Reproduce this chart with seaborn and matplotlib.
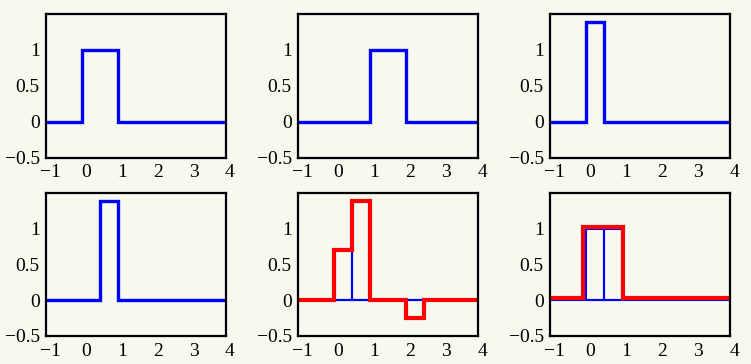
import matplotlib
matplotlib.use("Agg")
import matplotlib.pyplot as plt
import matplotlib.transforms as mtransforms
import seaborn as sns
import pandas as pd

# ---- data ----
p1_edges = [-1, 0, 1, 4]
p1_vals = [0, 1, 0, 0]
p2_edges = [-1, 1, 2, 4]
p2_vals = [0, 1, 0, 0]
p3_edges = [-1, 0, 0.5, 4]
p3_vals = [0, 1.39, 0, 0]
p4_edges = [-1, 0.5, 1, 4]
p4_vals = [0, 1.39, 0, 0]
p5_red_edges = [-1, 0, 0.5, 1, 2, 2.5, 4]
p5_red_vals = [0, 0.7, 1.39, 0, -0.25, 0, 0]
p5_bar_left = [0, 0.5, 2]
p5_bar_height = [0.7, 1.39, -0.25]
p6_red_edges = [-1, -0.07, 1.03, 4]
p6_red_vals = [0.03, 1.03, 0.03, 0.03]
p6_bar_left = [0, 0.5]
p6_bar_height = [1.0, 1.0]
bar_width = 0.5
xticks = [-1, 0, 1, 2, 3, 4]
yticks = [-0.5, 0, 0.5, 1]
ytick_labels = ["\u22120.5", "0", "0.5", "1"]
xtick_labels = ["\u22121", "0", "1", "2", "3", "4"]

BG = "#f7f9ef"
sns.set_theme(style="white")
plt.rcParams["font.family"] = ["Liberation Serif", "DejaVu Serif"]

W, H = 751, 364
fig = plt.figure(figsize=(W / 100, H / 100), dpi=100, facecolor=BG)

cols = [46, 298, 550]
rows = [(14, 157.5), (193, 336)]
pw = 180


def make_ax(ci, ri):
    x0 = cols[ci]
    t, b = rows[ri]
    ax = fig.add_axes([x0 / W, 1 - b / H, pw / W, (b - t) / H])
    ax.set_facecolor(BG)
    ax.set_xlim(-1, 4)
    ax.set_ylim(-0.5, 1.5)
    ax.set_xticks(xticks)
    ax.set_xticklabels(xtick_labels)
    ax.set_yticks(yticks)
    ax.set_yticklabels(ytick_labels)
    ax.tick_params(length=0, labelsize=14, colors="black")
    ax.tick_params(axis="x", pad=5)
    ax.tick_params(axis="y", pad=4.5)
    for s in ax.spines.values():
        s.set_visible(True)
        s.set_color("black")
        s.set_linewidth(1.6)
    off = mtransforms.ScaledTranslation(4 / 100, 0, fig.dpi_scale_trans)
    for lab in ax.get_xticklabels():
        lab.set_transform(lab.get_transform() + off)
    ax.set_xlabel("")
    ax.set_ylabel("")
    return ax


def step(ax, edges, vals, color, lw):
    df = pd.DataFrame({"x": edges, "y": vals})
    sns.lineplot(data=df, x="x", y="y", ax=ax, drawstyle="steps-post",
                 color=color, linewidth=lw, solid_joinstyle="miter",
                 solid_capstyle="butt", estimator=None)
    ax.set_xlabel("")
    ax.set_ylabel("")


BLUE = "#0000ff"
RED = "#ff0000"

ax = make_ax(0, 0); step(ax, p1_edges, p1_vals, BLUE, 2.4)
ax = make_ax(1, 0); step(ax, p2_edges, p2_vals, BLUE, 2.4)
ax = make_ax(2, 0); step(ax, p3_edges, p3_vals, BLUE, 2.4)
ax = make_ax(0, 1); step(ax, p4_edges, p4_vals, BLUE, 2.4)

ax = make_ax(1, 1)
step(ax, [-1, 4], [0, 0], BLUE, 1.5)
ax.bar(p5_bar_left, p5_bar_height, width=bar_width, align="edge", fill=False,
       edgecolor=BLUE, linewidth=1.5)
step(ax, p5_red_edges, p5_red_vals, RED, 3.0)

ax = make_ax(2, 1)
step(ax, [-1, 4], [0, 0], BLUE, 1.5)
ax.bar(p6_bar_left, p6_bar_height, width=bar_width, align="edge", fill=False,
       edgecolor=BLUE, linewidth=1.5)
step(ax, p6_red_edges, p6_red_vals, RED, 3.0)

for a in fig.axes:
    a.set_xlim(-1, 4)
    a.set_ylim(-0.5, 1.5)

fig.savefig("out.png", dpi=100, facecolor=BG)
